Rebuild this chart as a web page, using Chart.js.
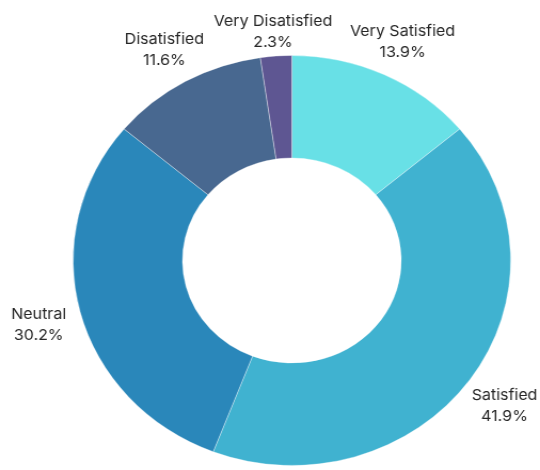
<!DOCTYPE html>
<html>
<head>
<meta charset="utf-8">
<script src="https://cdn.jsdelivr.net/npm/chart.js@4"></script>
<style>
  html, body { margin: 0; padding: 0; background: #fff; overflow: hidden; }
  /* chart is drawn a bit narrower and widened here, so the ring comes out slightly oval */
  #wrap { width: 506px; height: 470px; transform: scale(1.0672, 1); transform-origin: 0 0; }
</style>
</head>
<body>
<div id="wrap"><canvas id="chart" width="506" height="470"></canvas></div>
<script>
const categories = ['Very Satisfied', 'Satisfied', 'Neutral', 'Disatisfied', 'Very Disatisfied'];
const shares = [13.9, 41.9, 30.2, 11.6, 2.3];
const sliceColors = ['#68e0e6', '#40b2d0', '#2a87ba', '#486890', '#5e5692'];

// two-line label (name + percent) centred on a ring outside each slice,
// pushed down when it would run off the top of the canvas
const outsideLabels = {
  id: 'outsideLabels',
  afterDatasetsDraw(chart, args, opts) {
    const { ctx } = chart;
    const meta = chart.getDatasetMeta(0);
    const values = chart.data.datasets[0].data;
    ctx.save();
    ctx.font = opts.font;
    ctx.fillStyle = opts.color;
    ctx.textAlign = 'center';
    ctx.textBaseline = 'middle';
    meta.data.forEach((arc, i) => {
      const { x, y, startAngle, endAngle, outerRadius } = arc.getProps(['x', 'y', 'startAngle', 'endAngle', 'outerRadius'], true);
      const mid = (startAngle + endAngle) / 2;
      const lines = [chart.data.labels[i], values[i].toFixed(1) + '%'];
      const hh = opts.lineHeight * lines.length / 2;
      const r = outerRadius + opts.offset;
      const cx = x + Math.cos(mid) * r;
      const cy = Math.max(y + Math.sin(mid) * r + opts.shiftY, opts.minTop + hh);
      lines.forEach((t, k) => {
        ctx.fillText(t, cx, cy + (k - (lines.length - 1) / 2) * opts.lineHeight);
      });
    });
    ctx.restore();
  }
};

new Chart(document.getElementById('chart'), {
  type: 'doughnut',
  data: {
    labels: categories,
    datasets: [{
      data: shares,
      backgroundColor: sliceColors,
      borderColor: 'rgba(255,255,255,0.35)',
      borderWidth: 1
    }]
  },
  options: {
    responsive: false,
    devicePixelRatio: 1,
    animation: false,
    cutout: '50%',
    layout: { padding: { left: 68, right: 27, top: 55, bottom: 4 } },
    plugins: {
      legend: { display: false },
      tooltip: { enabled: false },
      outsideLabels: {
        font: '15px Inter, "Open Sans", sans-serif',
        color: '#262626',
        lineHeight: 21,
        offset: 40,
        shiftY: 3,
        minTop: 11
      }
    }
  },
  plugins: [outsideLabels]
});
</script>
</body>
</html>
